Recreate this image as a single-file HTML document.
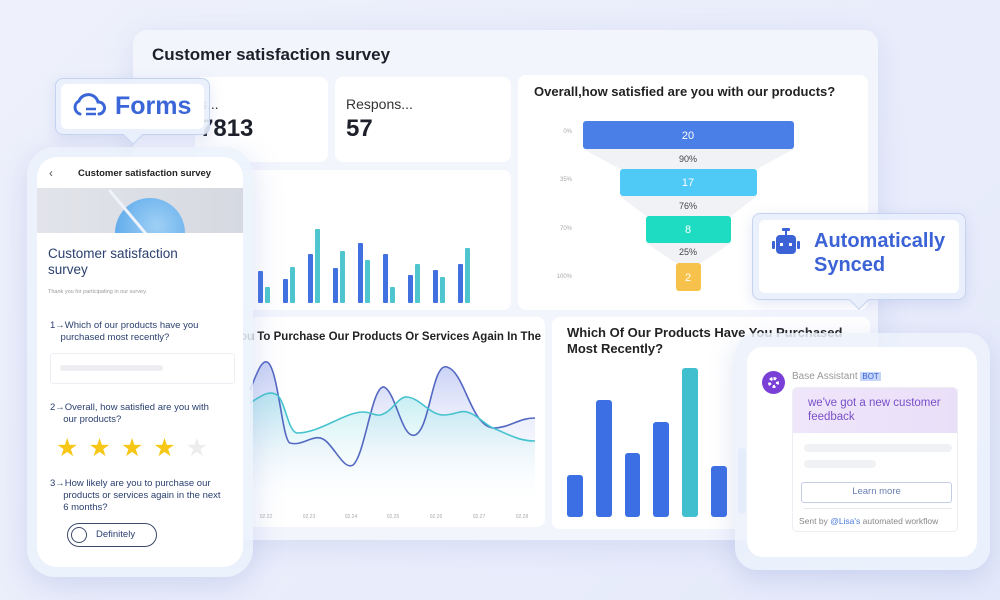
<!DOCTYPE html>
<html><head><meta charset="utf-8"><style>
*{box-sizing:border-box;margin:0;padding:0}
body{width:1000px;height:600px;overflow:hidden;background:linear-gradient(135deg,#eef1fb,#e9edfb 60%,#e4e9fa);font-family:"Liberation Sans",sans-serif;position:relative}
.abs{position:absolute}
.card{position:absolute;background:#fff;border-radius:8px}
.t{position:absolute;white-space:nowrap}
</style></head><body>
<div class="abs" style="left:133px;top:30px;width:745px;height:510px;background:#f3f5fd;border-radius:14px;box-shadow:0 6px 30px rgba(120,140,210,.18)"></div>
<div class="t" style="left:152px;top:45px;font-size:17px;font-weight:bold;color:#1d1f2a">Customer satisfaction survey</div>
<div class="card" style="left:195px;top:77px;width:133px;height:85px"></div>
<div class="t" style="left:200px;top:96px;font-size:14px;color:#333">s...</div>
<div class="t" style="left:200px;top:115px;font-size:24px;font-weight:bold;color:#1d1f2a">7813</div>
<div class="card" style="left:335px;top:77px;width:176px;height:85px"></div>
<div class="t" style="left:346px;top:96px;font-size:14px;color:#333">Respons...</div>
<div class="t" style="left:346px;top:115px;font-size:24px;font-weight:bold;color:#1d1f2a">57</div>
<div class="card" style="left:230px;top:170px;width:281px;height:140px"></div>
<div class="card" style="left:518px;top:75px;width:350px;height:235px"></div>
<div class="t" style="left:534px;top:84px;font-size:13px;font-weight:bold;color:#222">Overall,how satisfied are you with our products?</div>
<div class="card" style="left:235px;top:317px;width:310px;height:210px"></div>
<div class="t" style="left:240px;top:331px;font-size:11.5px;font-weight:bold;color:#222">ou To Purchase Our Products Or Services Again In The</div>
<div class="card" style="left:552px;top:317px;width:318px;height:212px"></div>
<div class="t" style="left:567px;top:325px;font-size:13px;font-weight:bold;color:#222;line-height:16px">Which Of Our Products Have You Purchased<br>Most Recently?</div>
<svg class="abs" style="left:0;top:0" width="1000" height="600">
<defs>
<linearGradient id="ga" x1="0" y1="0" x2="0" y2="1"><stop offset="0" stop-color="#b9c4f3"/><stop offset="1" stop-color="#fff" stop-opacity="0"/></linearGradient>
<linearGradient id="gb" x1="0" y1="0" x2="0" y2="1"><stop offset="0" stop-color="#a9e6ec"/><stop offset="1" stop-color="#fff" stop-opacity="0"/></linearGradient>
</defs>
<g fill="#4170e0">
<rect x="258" y="271" width="5" height="32" rx="1"/><rect x="283" y="279" width="5" height="24" rx="1"/><rect x="308" y="254" width="5" height="49" rx="1"/><rect x="333" y="268" width="5" height="35" rx="1"/><rect x="358" y="243" width="5" height="60" rx="1"/><rect x="383" y="254" width="5" height="49" rx="1"/><rect x="408" y="275" width="5" height="28" rx="1"/><rect x="433" y="270" width="5" height="33" rx="1"/><rect x="458" y="264" width="5" height="39" rx="1"/>
</g>
<g fill="#4fc6cf">
<rect x="265" y="287" width="5" height="16" rx="1"/><rect x="290" y="267" width="5" height="36" rx="1"/><rect x="315" y="229" width="5" height="74" rx="1"/><rect x="340" y="251" width="5" height="52" rx="1"/><rect x="365" y="260" width="5" height="43" rx="1"/><rect x="390" y="287" width="5" height="16" rx="1"/><rect x="415" y="264" width="5" height="39" rx="1"/><rect x="440" y="277" width="5" height="26" rx="1"/><rect x="465" y="248" width="5" height="55" rx="1"/>
</g>
<g fill="#f1f2f6">
<polygon points="583,149 794,149 757,169 620,169"/>
<polygon points="620,196 757,196 731,216 646,216"/>
<polygon points="646,243 731,243 701,263 676,263"/>
</g>
<rect x="583" y="121" width="211" height="28" rx="3" fill="#4a7fe8"/>
<rect x="620" y="169" width="137" height="27" rx="3" fill="#4fcaf6"/>
<rect x="646" y="216" width="85" height="27" rx="3" fill="#1edcc2"/>
<rect x="676" y="263" width="25" height="28" rx="3" fill="#f6c24c"/>
<g font-family="Liberation Sans" text-anchor="middle" font-size="11" fill="#fff">
<text x="688" y="139">20</text><text x="688" y="186">17</text><text x="688" y="233">8</text><text x="688" y="281">2</text>
</g>
<g font-family="Liberation Sans" text-anchor="middle" font-size="9" fill="#444">
<text x="688" y="162">90%</text><text x="688" y="209">76%</text><text x="688" y="255">25%</text>
</g>
<g font-family="Liberation Sans" text-anchor="end" font-size="6" fill="#aaa">
<text x="572" y="133">0%</text><text x="572" y="181">35%</text><text x="572" y="230">70%</text><text x="572" y="278">100%</text>
</g>
<path d="M250,390 C258,370 262,360 267,362 C278,366 282,440 290,443 C305,447 315,430 327,442 C337,452 345,470 353,465 C365,455 372,385 384,387 C396,392 402,440 415,435 C430,430 432,362 447,367 C465,372 470,425 493,428 C510,428 518,418 528,418 L535,418 L535,505 L250,505Z" fill="url(#ga)" opacity=".8"/>
<path d="M250,403 C262,395 270,390 277,395 C285,400 288,432 297,433 C320,433 345,412 363,412 C372,412 374,416 380,415 C392,413 398,396 407,397 C420,398 430,415 443,415 C455,415 460,410 467,412 C478,415 485,425 493,428 C508,434 518,441 535,441 L535,505 L250,505Z" fill="url(#gb)" opacity=".7"/>
<path d="M250,390 C258,370 262,360 267,362 C278,366 282,440 290,443 C305,447 315,430 327,442 C337,452 345,470 353,465 C365,455 372,385 384,387 C396,392 402,440 415,435 C430,430 432,362 447,367 C465,372 470,425 493,428 C510,428 518,418 535,418" fill="none" stroke="#5468c2" stroke-width="1.6"/>
<path d="M250,403 C262,395 270,390 277,395 C285,400 288,432 297,433 C320,433 345,412 363,412 C372,412 374,416 380,415 C392,413 398,396 407,397 C420,398 430,415 443,415 C455,415 460,410 467,412 C478,415 485,425 493,428 C508,434 518,441 535,441" fill="none" stroke="#46c3cf" stroke-width="1.6"/>
<g font-family="Liberation Sans" text-anchor="middle" font-size="5" fill="#aaa">
<text x="266" y="518">02.22</text><text x="309" y="518">02.23</text><text x="351" y="518">02.24</text><text x="393" y="518">02.25</text><text x="436" y="518">02.26</text><text x="479" y="518">02.27</text><text x="522" y="518">02.28</text>
</g>
<g fill="#3c6fe3">
<rect x="567" y="475" width="16" height="42" rx="3"/><rect x="596" y="400" width="16" height="117" rx="3"/><rect x="625" y="453" width="15" height="64" rx="3"/><rect x="653" y="422" width="16" height="95" rx="3"/><rect x="711" y="466" width="16" height="51" rx="3"/>
</g>
<rect x="682" y="368" width="16" height="149" rx="3" fill="#41bfcf"/>
<rect x="738" y="448" width="8" height="66" rx="3" fill="#8aa6f0" opacity=".6"/>
</svg>

<div class="abs" style="left:27px;top:147px;width:226px;height:430px;border-radius:28px;background:rgba(235,242,252,.85);box-shadow:0 8px 30px rgba(120,140,210,.25)"></div>
<div class="abs" style="left:37px;top:157px;width:206px;height:410px;border-radius:20px;background:#fff;overflow:hidden">
  <div class="t" style="left:12px;top:9px;font-size:12px;color:#555">&#8249;</div>
  <div class="t" style="left:41px;top:11px;font-size:9.5px;font-weight:bold;color:#222">Customer satisfaction survey</div>
  <div class="abs" style="left:0;top:31px;width:206px;height:45px;background:linear-gradient(90deg,#e2e4ea,#d6d9e1);overflow:hidden">
    <div class="abs" style="left:78px;top:10px;width:70px;height:70px;border-radius:50%;background:radial-gradient(circle at 60% 40%,#9fd0f5,#4a9ee8)"></div>
    <div class="abs" style="left:90px;top:-5px;width:3px;height:60px;background:#eef3fb;transform:rotate(-40deg)"></div>
  </div>
  <div class="t" style="left:11px;top:89px;font-size:13.5px;color:#2b4070;line-height:16px">Customer satisfaction<br>survey</div>
  <div class="t" style="left:11px;top:132px;font-size:5.5px;color:#999">Thank you for participating in our survey.</div>
  <div class="t" style="left:13px;top:163px;font-size:9.5px;color:#2b4070;line-height:12px">1→Which of our products have you<br>&nbsp;&nbsp;&nbsp;&nbsp;purchased most recently?</div>
  <div class="abs" style="left:13px;top:196px;width:185px;height:31px;border:1px solid #eceef3;border-radius:3px"><div class="abs" style="left:9px;top:11px;width:103px;height:6px;border-radius:3px;background:#eceef2"></div></div>
  <div class="t" style="left:13px;top:245px;font-size:9.5px;color:#2b4070;line-height:12px">2→Overall, how satisfied are you with<br>&nbsp;&nbsp;&nbsp;&nbsp;&nbsp;our products?</div>
  <div class="t" style="left:19px;top:276px;font-size:25px;color:#f7c718;letter-spacing:10px">★★★★<span style="color:#ededed">★</span></div>
  <div class="t" style="left:13px;top:321px;font-size:9.5px;color:#2b4070;line-height:12px">3→How likely are you to purchase our<br>&nbsp;&nbsp;&nbsp;&nbsp;&nbsp;products or services again in the next<br>&nbsp;&nbsp;&nbsp;&nbsp;&nbsp;6 months?</div>
  <div class="abs" style="left:30px;top:366px;width:90px;height:24px;border:1px solid #3d4a6a;border-radius:12px"><div class="abs" style="left:3px;top:3px;width:16px;height:16px;border:1px solid #3d4a6a;border-radius:50%"></div><div class="t" style="left:28px;top:5px;font-size:9.5px;color:#2b4070">Definitely</div></div>
</div>

<div class="abs" style="left:55px;top:78px;width:155px;height:57px;border-radius:8px;background:rgba(233,240,252,.9);border:1px solid #c5d2f0;box-shadow:0 4px 14px rgba(120,140,210,.2)"></div>
<div class="abs" style="left:126px;top:128px;width:14px;height:14px;background:#e9f0fc;border-right:1px solid #c5d2f0;border-bottom:1px solid #c5d2f0;transform:rotate(45deg)"></div>
<div class="abs" style="left:61px;top:84px;width:143px;height:45px;border-radius:6px;background:#fff"></div>
<svg class="abs" style="left:72px;top:92px" width="34" height="28"><path d="M8,22 A7,7 0 0 1 7,9 A10,10 0 0 1 26,10 A6,6 0 0 1 27,22" fill="none" stroke="#3a66d8" stroke-width="3" stroke-linecap="round"/><path d="M14,17 H24 M14,22 H24" stroke="#3a66d8" stroke-width="2.5"/></svg>
<div class="t" style="left:115px;top:92px;font-size:25px;font-weight:bold;color:#3a66d8">Forms</div>

<div class="abs" style="left:752px;top:213px;width:214px;height:87px;border-radius:8px;background:rgba(233,240,252,.9);border:1px solid #c5d2f0;box-shadow:0 4px 14px rgba(120,140,210,.2)"></div>
<div class="abs" style="left:852px;top:293px;width:14px;height:14px;background:#e9f0fc;border-right:1px solid #c5d2f0;border-bottom:1px solid #c5d2f0;transform:rotate(45deg)"></div>
<div class="abs" style="left:759px;top:220px;width:200px;height:73px;border-radius:6px;background:#fff"></div>
<svg class="abs" style="left:770px;top:228px" width="32" height="30"><rect x="15" y="1" width="2" height="6" fill="#3b63d6"/><rect x="12" y="0" width="8" height="3" rx="1" fill="#3b63d6"/><rect x="6" y="7" width="20" height="19" rx="4" fill="#3b63d6"/><rect x="2" y="13" width="3" height="8" rx="1" fill="#3b63d6"/><rect x="27" y="13" width="3" height="8" rx="1" fill="#3b63d6"/><rect x="10" y="15" width="3" height="3" fill="#fff"/><rect x="19" y="15" width="3" height="3" fill="#fff"/></svg>
<div class="t" style="left:814px;top:229px;font-size:20px;font-weight:bold;color:#3b63d6;line-height:24px">Automatically<br>Synced</div>

<div class="abs" style="left:735px;top:333px;width:255px;height:237px;border-radius:22px;background:rgba(236,242,252,.85);box-shadow:0 8px 26px rgba(120,140,210,.25)"></div>
<div class="abs" style="left:747px;top:347px;width:230px;height:210px;border-radius:16px;background:#fff"></div>
<div class="abs" style="left:762px;top:371px;width:23px;height:23px;border-radius:50%;background:#7a3fd6"></div>
<div class="abs" style="left:768px;top:377px;width:11px;height:11px;border-radius:50%;border:3px dotted #fff"></div>
<div class="t" style="left:792px;top:371px;font-size:10px;color:#999">Base Assistant <span style="background:#c6d6fa;color:#3b63d6;font-size:8px;padding:0 2px">BOT</span></div>
<div class="abs" style="left:792px;top:387px;width:166px;height:145px;border:1px solid #eceef3;border-radius:5px;overflow:hidden">
  <div class="abs" style="left:0;top:0;width:166px;height:45px;background:linear-gradient(90deg,#efe6fb,#e9dff8)"></div>
  <div class="t" style="left:15px;top:8px;font-size:11.5px;color:#7a4fc8;line-height:14px">we've got a new customer<br>feedback</div>
  <div class="abs" style="left:11px;top:56px;width:148px;height:8px;border-radius:4px;background:#f0f1f4"></div>
  <div class="abs" style="left:11px;top:72px;width:72px;height:8px;border-radius:4px;background:#f0f1f4"></div>
  <div class="abs" style="left:8px;top:94px;width:151px;height:21px;border:1.5px solid #c3cde6;border-radius:3px;text-align:center;font-size:9.5px;color:#6a7fb0;line-height:18px">Learn more</div>
  <div class="abs" style="left:11px;top:120px;width:148px;height:1px;background:#e6e8ee"></div>
  <div class="t" style="left:6px;top:128px;font-size:8.5px;color:#888">Sent by <span style="color:#4a7be0">@Lisa's</span> automated workflow</div>
</div>
</body></html>
